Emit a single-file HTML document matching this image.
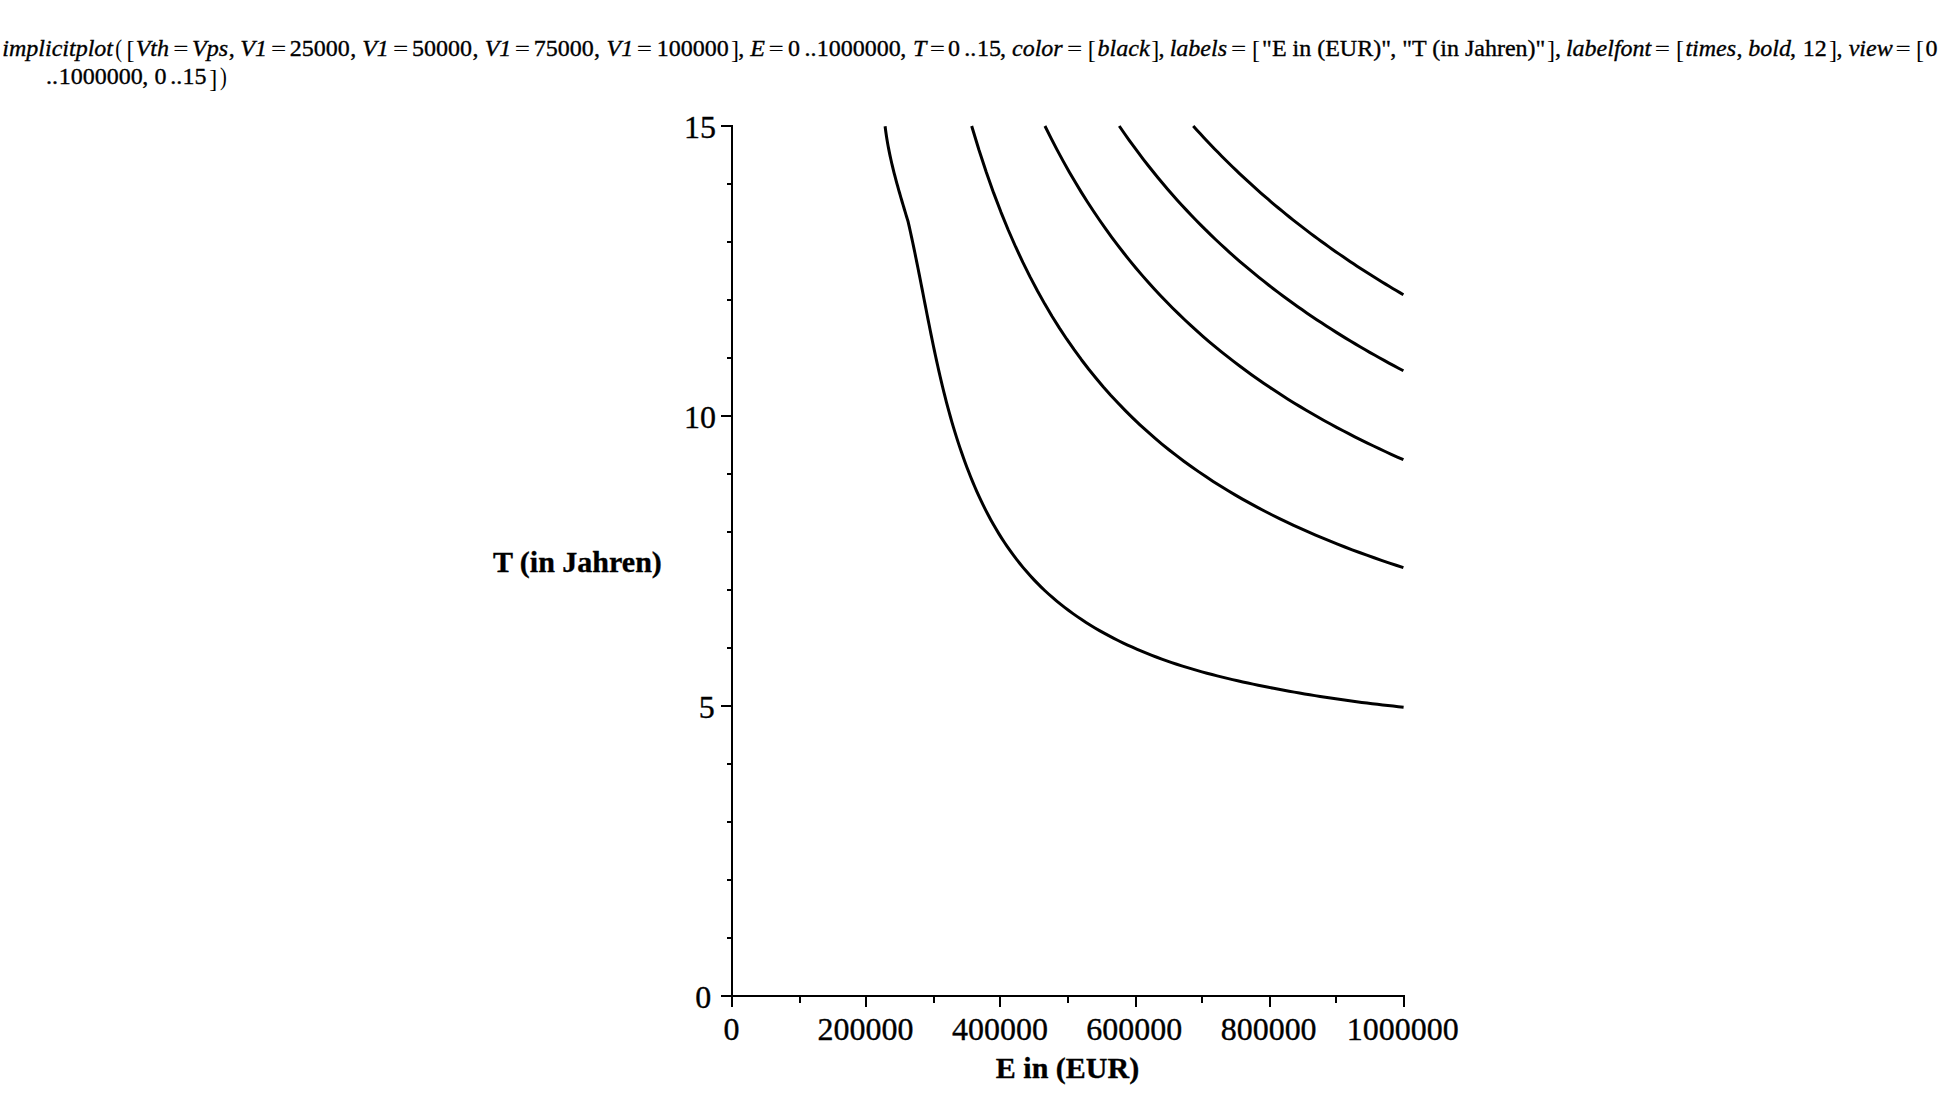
<!DOCTYPE html>
<html lang="de"><head><meta charset="utf-8"><title>implicitplot</title>
<style>
html,body{margin:0;padding:0;background:#fff;}
body{width:1950px;height:1098px;overflow:hidden;}
svg{display:block;}
text{font-family:"Liberation Serif",serif;fill:#000;white-space:pre;stroke:#000;stroke-width:0.35px;paint-order:stroke fill;}
.i{font-style:italic;}
.b{font-weight:bold;}
.f{stroke:none;}
.axes rect{fill:#000;}
.curves path{fill:none;stroke:#000;stroke-width:3;stroke-linecap:butt;stroke-linejoin:round;}
</style></head><body>
<svg width="1950" height="1098" viewBox="0 0 1950 1098">
<rect x="0" y="0" width="1950" height="1098" fill="#ffffff"/>
<g class="cmd">
<text class="i" x="2.33" y="55.70" font-size="24" transform="translate(3.70,55.70) scale(1.0,1.0) translate(-3.70,-55.70)">implicitplot</text>
<text class="r f" x="115.00" y="55.70" font-size="24" transform="translate(116.00,57.10) scale(0.85,1.01) translate(-116.00,-55.70)">(</text>
<text class="r f" x="126.45" y="55.70" font-size="24" transform="translate(128.20,58.42) scale(1.0,1.058) translate(-128.20,-55.70)">[</text>
<text class="i" x="135.65" y="55.70" font-size="24" transform="translate(136.90,55.70) scale(1.0,1.0) translate(-136.90,-55.70)">Vth</text>
<text class="r" x="173.55" y="55.70" font-size="24" transform="translate(174.80,55.24) scale(1.09,0.78) translate(-174.80,-55.70)">=</text>
<text class="i" x="192.05" y="55.70" font-size="24" transform="translate(193.30,55.70) scale(1.0,1.0) translate(-193.30,-55.70)">Vps</text>
<text class="r" x="228.72" y="55.70" font-size="24" transform="translate(229.60,55.70) scale(1.0,1.0) translate(-229.60,-55.70)">,</text>
<text class="i" x="240.25" y="55.70" font-size="24" transform="translate(241.50,55.70) scale(1.0,1.0) translate(-241.50,-55.70)">V1</text>
<text class="r" x="271.35" y="55.70" font-size="24" transform="translate(272.60,55.24) scale(1.09,0.78) translate(-272.60,-55.70)">=</text>
<text class="r" x="289.70" y="55.70" font-size="24" transform="translate(290.70,55.70) scale(1.0,1.0) translate(-290.70,-55.70)">25000</text>
<text class="r" x="350.32" y="55.70" font-size="24" transform="translate(351.20,55.70) scale(1.0,1.0) translate(-351.20,-55.70)">,</text>
<text class="i" x="362.15" y="55.70" font-size="24" transform="translate(363.40,55.70) scale(1.0,1.0) translate(-363.40,-55.70)">V1</text>
<text class="r" x="393.35" y="55.70" font-size="24" transform="translate(394.60,55.24) scale(1.09,0.78) translate(-394.60,-55.70)">=</text>
<text class="r" x="412.03" y="55.70" font-size="24" transform="translate(413.40,55.70) scale(1.0,1.0) translate(-413.40,-55.70)">50000</text>
<text class="r" x="472.52" y="55.70" font-size="24" transform="translate(473.40,55.70) scale(1.0,1.0) translate(-473.40,-55.70)">,</text>
<text class="i" x="484.65" y="55.70" font-size="24" transform="translate(485.90,55.70) scale(1.0,1.0) translate(-485.90,-55.70)">V1</text>
<text class="r" x="515.15" y="55.70" font-size="24" transform="translate(516.40,55.24) scale(1.09,0.78) translate(-516.40,-55.70)">=</text>
<text class="r" x="533.77" y="55.70" font-size="24" transform="translate(535.40,55.70) scale(1.0,1.0) translate(-535.40,-55.70)">75000</text>
<text class="r" x="594.12" y="55.70" font-size="24" transform="translate(595.00,55.70) scale(1.0,1.0) translate(-595.00,-55.70)">,</text>
<text class="i" x="606.55" y="55.70" font-size="24" transform="translate(607.80,55.70) scale(1.0,1.0) translate(-607.80,-55.70)">V1</text>
<text class="r" x="637.05" y="55.70" font-size="24" transform="translate(638.30,55.24) scale(1.09,0.78) translate(-638.30,-55.70)">=</text>
<text class="r" x="656.67" y="55.70" font-size="24" transform="translate(658.80,55.70) scale(1.0,1.0) translate(-658.80,-55.70)">100000</text>
<text class="r f" x="731.12" y="55.70" font-size="24" transform="translate(732.00,58.42) scale(1.0,1.058) translate(-732.00,-55.70)">]</text>
<text class="r" x="738.32" y="55.70" font-size="24" transform="translate(739.20,55.70) scale(1.0,1.0) translate(-739.20,-55.70)">,</text>
<text class="i" x="750.35" y="55.70" font-size="24" transform="translate(750.10,55.70) scale(1.0,1.0) translate(-750.10,-55.70)">E</text>
<text class="r" x="768.95" y="55.70" font-size="24" transform="translate(770.20,55.24) scale(1.09,0.78) translate(-770.20,-55.70)">=</text>
<text class="r" x="788.12" y="55.70" font-size="24" transform="translate(789.00,55.70) scale(1.0,1.0) translate(-789.00,-55.70)">0</text>
<text class="r" x="804.38" y="55.70" font-size="24" transform="translate(806.00,55.70) scale(1.0,1.0) translate(-806.00,-55.70)">..</text>
<text class="r" x="816.67" y="55.70" font-size="24" transform="translate(818.80,55.70) scale(1.0,1.0) translate(-818.80,-55.70)">1000000</text>
<text class="r" x="900.23" y="55.70" font-size="24" transform="translate(901.10,55.70) scale(1.0,1.0) translate(-901.10,-55.70)">,</text>
<text class="i" x="912.98" y="55.70" font-size="24" transform="translate(914.60,55.70) scale(1.0,1.0) translate(-914.60,-55.70)">T</text>
<text class="r" x="930.25" y="55.70" font-size="24" transform="translate(931.50,55.24) scale(1.09,0.78) translate(-931.50,-55.70)">=</text>
<text class="r" x="948.12" y="55.70" font-size="24" transform="translate(949.00,55.70) scale(1.0,1.0) translate(-949.00,-55.70)">0</text>
<text class="r" x="964.18" y="55.70" font-size="24" transform="translate(965.80,55.70) scale(1.0,1.0) translate(-965.80,-55.70)">..</text>
<text class="r" x="976.97" y="55.70" font-size="24" transform="translate(979.10,55.70) scale(1.0,1.0) translate(-979.10,-55.70)">15</text>
<text class="r" x="1000.03" y="55.70" font-size="24" transform="translate(1000.90,55.70) scale(1.0,1.0) translate(-1000.90,-55.70)">,</text>
<text class="i" x="1012.05" y="55.70" font-size="24" transform="translate(1012.80,55.70) scale(1.0,1.0) translate(-1012.80,-55.70)">color</text>
<text class="r" x="1067.35" y="55.70" font-size="24" transform="translate(1068.60,55.24) scale(1.09,0.78) translate(-1068.60,-55.70)">=</text>
<text class="r f" x="1087.85" y="55.70" font-size="24" transform="translate(1089.60,58.42) scale(1.0,1.058) translate(-1089.60,-55.70)">[</text>
<text class="i" x="1097.62" y="55.70" font-size="24" transform="translate(1098.50,55.70) scale(1.0,1.0) translate(-1098.50,-55.70)">black</text>
<text class="r f" x="1151.33" y="55.70" font-size="24" transform="translate(1152.20,58.42) scale(1.0,1.058) translate(-1152.20,-55.70)">]</text>
<text class="r" x="1158.62" y="55.70" font-size="24" transform="translate(1159.50,55.70) scale(1.0,1.0) translate(-1159.50,-55.70)">,</text>
<text class="i" x="1169.65" y="55.70" font-size="24" transform="translate(1170.90,55.70) scale(1.0,1.0) translate(-1170.90,-55.70)">labels</text>
<text class="r" x="1231.25" y="55.70" font-size="24" transform="translate(1232.50,55.24) scale(1.09,0.78) translate(-1232.50,-55.70)">=</text>
<text class="r f" x="1252.05" y="55.70" font-size="24" transform="translate(1253.80,58.42) scale(1.0,1.058) translate(-1253.80,-55.70)">[</text>
<text class="r" x="1262.10" y="55.70" font-size="24" transform="translate(1263.60,55.70) scale(1.0,1.0) translate(-1263.60,-55.70)">&quot;E in (EUR)&quot;</text>
<text class="r" x="1390.33" y="55.70" font-size="24" transform="translate(1391.20,55.70) scale(1.0,1.0) translate(-1391.20,-55.70)">,</text>
<text class="r" x="1402.30" y="55.70" font-size="24" transform="translate(1403.80,55.70) scale(1.0,1.0) translate(-1403.80,-55.70)">&quot;T (in Jahren)&quot;</text>
<text class="r f" x="1547.12" y="55.70" font-size="24" transform="translate(1548.00,58.42) scale(1.0,1.058) translate(-1548.00,-55.70)">]</text>
<text class="r" x="1554.92" y="55.70" font-size="24" transform="translate(1555.80,55.70) scale(1.0,1.0) translate(-1555.80,-55.70)">,</text>
<text class="i" x="1565.95" y="55.70" font-size="24" transform="translate(1567.20,55.70) scale(1.0,1.0) translate(-1567.20,-55.70)">labelfont</text>
<text class="r" x="1655.15" y="55.70" font-size="24" transform="translate(1656.40,55.24) scale(1.09,0.78) translate(-1656.40,-55.70)">=</text>
<text class="r f" x="1675.95" y="55.70" font-size="24" transform="translate(1677.70,58.42) scale(1.0,1.058) translate(-1677.70,-55.70)">[</text>
<text class="i" x="1685.38" y="55.70" font-size="24" transform="translate(1686.50,55.70) scale(1.0,1.0) translate(-1686.50,-55.70)">times</text>
<text class="r" x="1736.42" y="55.70" font-size="24" transform="translate(1737.30,55.70) scale(1.0,1.0) translate(-1737.30,-55.70)">,</text>
<text class="i" x="1748.33" y="55.70" font-size="24" transform="translate(1749.20,55.70) scale(1.0,1.0) translate(-1749.20,-55.70)">bold</text>
<text class="r" x="1789.92" y="55.70" font-size="24" transform="translate(1790.80,55.70) scale(1.0,1.0) translate(-1790.80,-55.70)">,</text>
<text class="r" x="1802.78" y="55.70" font-size="24" transform="translate(1804.90,55.70) scale(1.0,1.0) translate(-1804.90,-55.70)">12</text>
<text class="r f" x="1829.03" y="55.70" font-size="24" transform="translate(1829.90,58.42) scale(1.0,1.058) translate(-1829.90,-55.70)">]</text>
<text class="r" x="1836.43" y="55.70" font-size="24" transform="translate(1837.30,55.70) scale(1.0,1.0) translate(-1837.30,-55.70)">,</text>
<text class="i" x="1848.73" y="55.70" font-size="24" transform="translate(1849.10,55.70) scale(1.0,1.0) translate(-1849.10,-55.70)">view</text>
<text class="r" x="1895.95" y="55.70" font-size="24" transform="translate(1897.20,55.24) scale(1.09,0.78) translate(-1897.20,-55.70)">=</text>
<text class="r f" x="1916.05" y="55.70" font-size="24" transform="translate(1917.80,58.42) scale(1.0,1.058) translate(-1917.80,-55.70)">[</text>
<text class="r" x="1925.62" y="55.70" font-size="24" transform="translate(1926.50,55.70) scale(1.0,1.0) translate(-1926.50,-55.70)">0</text>
<text class="r" x="46.08" y="84.00" font-size="24" transform="translate(47.70,84.00) scale(1.0,1.0) translate(-47.70,-84.00)">..</text>
<text class="r" x="58.78" y="84.00" font-size="24" transform="translate(60.90,84.00) scale(1.0,1.0) translate(-60.90,-84.00)">1000000</text>
<text class="r" x="142.32" y="84.00" font-size="24" transform="translate(143.20,84.00) scale(1.0,1.0) translate(-143.20,-84.00)">,</text>
<text class="r" x="154.43" y="84.00" font-size="24" transform="translate(155.30,84.00) scale(1.0,1.0) translate(-155.30,-84.00)">0</text>
<text class="r" x="170.28" y="84.00" font-size="24" transform="translate(171.90,84.00) scale(1.0,1.0) translate(-171.90,-84.00)">..</text>
<text class="r" x="182.57" y="84.00" font-size="24" transform="translate(184.70,84.00) scale(1.0,1.0) translate(-184.70,-84.00)">15</text>
<text class="r f" x="209.22" y="84.00" font-size="24" transform="translate(210.10,86.72) scale(1.0,1.058) translate(-210.10,-84.00)">]</text>
<text class="r f" x="219.85" y="84.00" font-size="24" transform="translate(220.60,85.40) scale(0.85,1.01) translate(-220.60,-84.00)">)</text>
</g>
<g class="axes"><rect x="731.0" y="125.0" width="2" height="872.0"/><rect x="731.0" y="995.0" width="674.0" height="2"/><rect x="721.0" y="995.00" width="11" height="2"/><rect x="727.0" y="937.00" width="5" height="2"/><rect x="727.0" y="879.00" width="5" height="2"/><rect x="727.0" y="821.00" width="5" height="2"/><rect x="727.0" y="763.00" width="5" height="2"/><rect x="721.0" y="705.00" width="11" height="2"/><rect x="727.0" y="647.00" width="5" height="2"/><rect x="727.0" y="589.00" width="5" height="2"/><rect x="727.0" y="531.00" width="5" height="2"/><rect x="727.0" y="473.00" width="5" height="2"/><rect x="721.0" y="415.00" width="11" height="2"/><rect x="727.0" y="357.00" width="5" height="2"/><rect x="727.0" y="299.00" width="5" height="2"/><rect x="727.0" y="241.00" width="5" height="2"/><rect x="727.0" y="183.00" width="5" height="2"/><rect x="721.0" y="125.00" width="11" height="2"/><rect x="731.00" y="996.0" width="2" height="11"/><rect x="799.00" y="996.0" width="2" height="7"/><rect x="865.00" y="996.0" width="2" height="11"/><rect x="933.00" y="996.0" width="2" height="7"/><rect x="999.00" y="996.0" width="2" height="11"/><rect x="1067.00" y="996.0" width="2" height="7"/><rect x="1135.00" y="996.0" width="2" height="11"/><rect x="1201.00" y="996.0" width="2" height="7"/><rect x="1269.00" y="996.0" width="2" height="11"/><rect x="1335.00" y="996.0" width="2" height="7"/><rect x="1403.00" y="996.0" width="2" height="11"/></g>
<g class="ticks">
<text class="r" x="683.95" y="137.70" font-size="32" transform="translate(686.70,137.70) scale(1.0,1.015) translate(-686.70,-137.70)">15</text>
<text class="r" x="683.95" y="427.70" font-size="32" transform="translate(686.70,427.70) scale(1.0,1.015) translate(-686.70,-427.70)">10</text>
<text class="r" x="698.83" y="717.70" font-size="32" transform="translate(700.70,717.70) scale(1.0,1.015) translate(-700.70,-717.70)">5</text>
<text class="r" x="695.35" y="1007.70" font-size="32" transform="translate(696.60,1007.70) scale(1.0,1.015) translate(-696.60,-1007.70)">0</text>
<text class="r" x="723.55" y="1039.80" font-size="32" transform="translate(724.80,1039.80) scale(1.0,1.015) translate(-724.80,-1039.80)">0</text>
<text class="r" x="817.50" y="1039.80" font-size="32" transform="translate(818.88,1039.80) scale(1.0,1.015) translate(-818.88,-1039.80)">200000</text>
<text class="r" x="951.90" y="1039.80" font-size="32" transform="translate(952.52,1039.80) scale(1.0,1.015) translate(-952.52,-1039.80)">400000</text>
<text class="r" x="1086.30" y="1039.80" font-size="32" transform="translate(1087.67,1039.80) scale(1.0,1.015) translate(-1087.67,-1039.80)">600000</text>
<text class="r" x="1220.65" y="1039.80" font-size="32" transform="translate(1221.90,1039.80) scale(1.0,1.015) translate(-1221.90,-1039.80)">800000</text>
<text class="r" x="1346.75" y="1039.80" font-size="32" transform="translate(1349.50,1039.80) scale(1.0,1.015) translate(-1349.50,-1039.80)">1000000</text>
</g>
<g class="lab">
<text class="b" x="995.80" y="1077.80" font-size="30" transform="translate(996.30,1077.80) scale(1.0,1.0) translate(-996.30,-1077.80)">E in (EUR)</text>
<text class="b" x="492.90" y="571.80" font-size="30" transform="translate(493.40,571.80) scale(1.0,1.0) translate(-493.40,-571.80)">T (in Jahren)</text>
</g>
<g class="curves"><path d="M885.10,126.20 L885.41,128.71 L885.73,131.22 L886.09,133.72 L886.46,136.22 L886.85,138.71 L887.27,141.20 L887.70,143.69 L888.15,146.17 L888.62,148.65 L889.11,151.13 L889.61,153.60 L890.14,156.07 L890.67,158.53 L891.23,161.00 L891.79,163.46 L892.37,165.91 L892.97,168.37 L893.57,170.82 L894.19,173.26 L894.82,175.71 L895.47,178.15 L896.12,180.59 L896.78,183.03 L897.45,185.47 L898.13,187.90 L898.81,190.33 L899.51,192.76 L900.21,195.19 L900.91,197.62 L901.62,200.04 L902.34,202.46 L903.06,204.88 L903.78,207.30 L904.50,209.72 L905.23,212.14 L905.96,214.56 L906.69,216.97 L907.42,219.39 L908.15,221.80 L909.31,226.91 L910.44,232.03 L911.56,237.15 L912.66,242.28 L913.74,247.41 L914.81,252.55 L915.87,257.70 L916.91,262.85 L917.95,268.00 L918.97,273.16 L919.99,278.32 L921.01,283.48 L922.02,288.65 L923.02,293.81 L924.03,298.98 L925.04,304.15 L926.05,309.31 L927.06,314.48 L928.08,319.65 L929.11,324.81 L930.14,329.98 L931.18,335.14 L932.24,340.29 L933.31,345.45 L934.39,350.60 L935.49,355.75 L936.60,360.89 L937.74,366.03 L938.89,371.16 L940.07,376.28 L941.27,381.40 L942.50,386.51 L943.75,391.61 L945.03,396.71 L946.34,401.79 L947.69,406.87 L949.06,411.94 L950.47,417.00 L951.91,422.04 L953.40,427.08 L954.92,432.10 L956.48,437.12 L958.08,442.12 L959.73,447.10 L961.42,452.08 L963.16,457.04 L964.94,461.98 L966.78,466.91 L968.66,471.83 L970.60,476.73 L972.60,481.61 L974.65,486.47 L976.75,491.30 L978.92,496.12 L981.15,500.90 L983.45,505.65 L985.81,510.37 L988.23,515.06 L990.73,519.70 L993.30,524.31 L995.94,528.87 L998.66,533.39 L1001.46,537.86 L1004.33,542.27 L1007.28,546.64 L1010.31,550.95 L1013.41,555.20 L1016.59,559.39 L1019.84,563.52 L1023.17,567.58 L1026.58,571.58 L1030.06,575.50 L1033.61,579.36 L1037.24,583.14 L1040.94,586.84 L1044.71,590.47 L1048.55,594.01 L1052.47,597.48 L1056.45,600.86 L1060.49,604.17 L1064.60,607.40 L1068.77,610.56 L1073.00,613.64 L1077.29,616.64 L1081.63,619.57 L1086.03,622.43 L1090.47,625.22 L1094.97,627.94 L1099.51,630.58 L1104.09,633.16 L1108.72,635.67 L1113.38,638.12 L1118.09,640.49 L1122.83,642.81 L1127.60,645.06 L1132.41,647.24 L1137.24,649.36 L1142.10,651.43 L1146.99,653.43 L1151.90,655.37 L1156.83,657.26 L1161.78,659.08 L1166.74,660.85 L1171.73,662.57 L1176.72,664.23 L1181.74,665.84 L1186.76,667.41 L1191.80,668.93 L1196.86,670.40 L1201.92,671.83 L1206.99,673.21 L1212.08,674.56 L1217.18,675.87 L1222.28,677.14 L1227.39,678.38 L1232.51,679.59 L1237.63,680.77 L1242.77,681.92 L1247.90,683.04 L1253.04,684.14 L1258.19,685.21 L1263.33,686.27 L1268.48,687.30 L1273.64,688.31 L1278.79,689.30 L1283.95,690.26 L1289.12,691.21 L1294.28,692.14 L1299.46,693.04 L1304.63,693.93 L1309.81,694.79 L1314.99,695.64 L1320.17,696.46 L1325.36,697.27 L1330.55,698.06 L1335.74,698.83 L1340.94,699.58 L1346.14,700.31 L1351.35,701.02 L1356.56,701.72 L1361.77,702.39 L1366.98,703.05 L1372.20,703.70 L1377.43,704.32 L1382.65,704.93 L1387.89,705.52 L1393.12,706.10 L1398.36,706.66 L1403.60,707.20"/><path d="M971.67,126.00 L978.99,150.04 L986.31,172.27 L993.62,192.90 L1000.94,212.09 L1008.26,230.00 L1015.58,246.74 L1022.89,262.43 L1030.21,277.17 L1037.53,291.04 L1044.84,304.11 L1052.16,316.47 L1059.48,328.15 L1066.80,339.23 L1074.11,349.73 L1081.43,359.72 L1088.75,369.23 L1096.07,378.28 L1103.38,386.93 L1110.70,395.18 L1118.02,403.07 L1125.34,410.63 L1132.65,417.87 L1139.97,424.81 L1147.29,431.48 L1154.61,437.88 L1161.92,444.05 L1169.24,449.98 L1176.56,455.69 L1183.88,461.20 L1191.19,466.51 L1198.51,471.64 L1205.83,476.60 L1213.15,481.39 L1220.46,486.03 L1227.78,490.52 L1235.10,494.87 L1242.42,499.08 L1249.73,503.17 L1257.05,507.13 L1264.37,510.98 L1271.69,514.72 L1279.00,518.35 L1286.32,521.88 L1293.64,525.31 L1300.96,528.66 L1308.27,531.91 L1315.59,535.08 L1322.91,538.17 L1330.23,541.18 L1337.54,544.12 L1344.86,546.98 L1352.18,549.78 L1359.50,552.50 L1366.81,555.17 L1374.13,557.77 L1381.45,560.32 L1388.77,562.81 L1396.08,565.24 L1403.40,567.62"/><path d="M1044.95,126.00 L1051.02,138.19 L1057.10,149.90 L1063.17,161.14 L1069.25,171.94 L1075.33,182.34 L1081.40,192.35 L1087.48,202.00 L1093.55,211.30 L1099.63,220.28 L1105.70,228.95 L1111.78,237.33 L1117.85,245.43 L1123.93,253.28 L1130.00,260.87 L1136.08,268.22 L1142.16,275.35 L1148.23,282.26 L1154.31,288.97 L1160.38,295.49 L1166.46,301.81 L1172.53,307.96 L1178.61,313.94 L1184.68,319.75 L1190.76,325.41 L1196.83,330.92 L1202.91,336.29 L1208.99,341.52 L1215.06,346.61 L1221.14,351.58 L1227.21,356.43 L1233.29,361.16 L1239.36,365.78 L1245.44,370.29 L1251.51,374.70 L1257.59,379.01 L1263.66,383.22 L1269.74,387.33 L1275.82,391.36 L1281.89,395.30 L1287.97,399.16 L1294.04,402.93 L1300.12,406.63 L1306.19,410.25 L1312.27,413.80 L1318.34,417.28 L1324.42,420.69 L1330.49,424.04 L1336.57,427.32 L1342.65,430.54 L1348.72,433.70 L1354.80,436.80 L1360.87,439.84 L1366.95,442.83 L1373.02,445.77 L1379.10,448.66 L1385.17,451.49 L1391.25,454.28 L1397.32,457.02 L1403.40,459.72"/><path d="M1119.26,126.00 L1124.08,132.99 L1128.89,139.81 L1133.71,146.46 L1138.53,152.96 L1143.34,159.30 L1148.16,165.50 L1152.97,171.55 L1157.79,177.47 L1162.61,183.26 L1167.42,188.92 L1172.24,194.46 L1177.05,199.88 L1181.87,205.19 L1186.68,210.38 L1191.50,215.47 L1196.32,220.46 L1201.13,225.35 L1205.95,230.15 L1210.76,234.85 L1215.58,239.46 L1220.40,243.98 L1225.21,248.42 L1230.03,252.78 L1234.84,257.06 L1239.66,261.26 L1244.48,265.38 L1249.29,269.44 L1254.11,273.42 L1258.92,277.34 L1263.74,281.19 L1268.55,284.97 L1273.37,288.70 L1278.19,292.36 L1283.00,295.96 L1287.82,299.51 L1292.63,303.00 L1297.45,306.44 L1302.27,309.82 L1307.08,313.15 L1311.90,316.43 L1316.71,319.66 L1321.53,322.85 L1326.35,325.99 L1331.16,329.08 L1335.98,332.13 L1340.79,335.14 L1345.61,338.10 L1350.43,341.03 L1355.24,343.91 L1360.06,346.76 L1364.87,349.57 L1369.69,352.34 L1374.50,355.07 L1379.32,357.77 L1384.14,360.43 L1388.95,363.07 L1393.77,365.66 L1398.58,368.23 L1403.40,370.76"/><path d="M1193.23,126.00 L1196.79,129.95 L1200.35,133.84 L1203.92,137.69 L1207.48,141.48 L1211.04,145.23 L1214.60,148.92 L1218.17,152.57 L1221.73,156.18 L1225.29,159.74 L1228.85,163.26 L1232.41,166.73 L1235.98,170.16 L1239.54,173.54 L1243.10,176.89 L1246.66,180.20 L1250.23,183.47 L1253.79,186.69 L1257.35,189.88 L1260.91,193.04 L1264.47,196.15 L1268.04,199.23 L1271.60,202.28 L1275.16,205.29 L1278.72,208.26 L1282.29,211.20 L1285.85,214.11 L1289.41,216.99 L1292.97,219.83 L1296.53,222.65 L1300.10,225.43 L1303.66,228.18 L1307.22,230.90 L1310.78,233.59 L1314.35,236.26 L1317.91,238.89 L1321.47,241.50 L1325.03,244.08 L1328.59,246.64 L1332.16,249.16 L1335.72,251.66 L1339.28,254.14 L1342.84,256.59 L1346.40,259.01 L1349.97,261.41 L1353.53,263.79 L1357.09,266.14 L1360.65,268.47 L1364.22,270.77 L1367.78,273.06 L1371.34,275.32 L1374.90,277.56 L1378.46,279.77 L1382.03,281.97 L1385.59,284.15 L1389.15,286.30 L1392.71,288.43 L1396.28,290.55 L1399.84,292.64 L1403.40,294.71"/></g>
</svg>
</body></html>
